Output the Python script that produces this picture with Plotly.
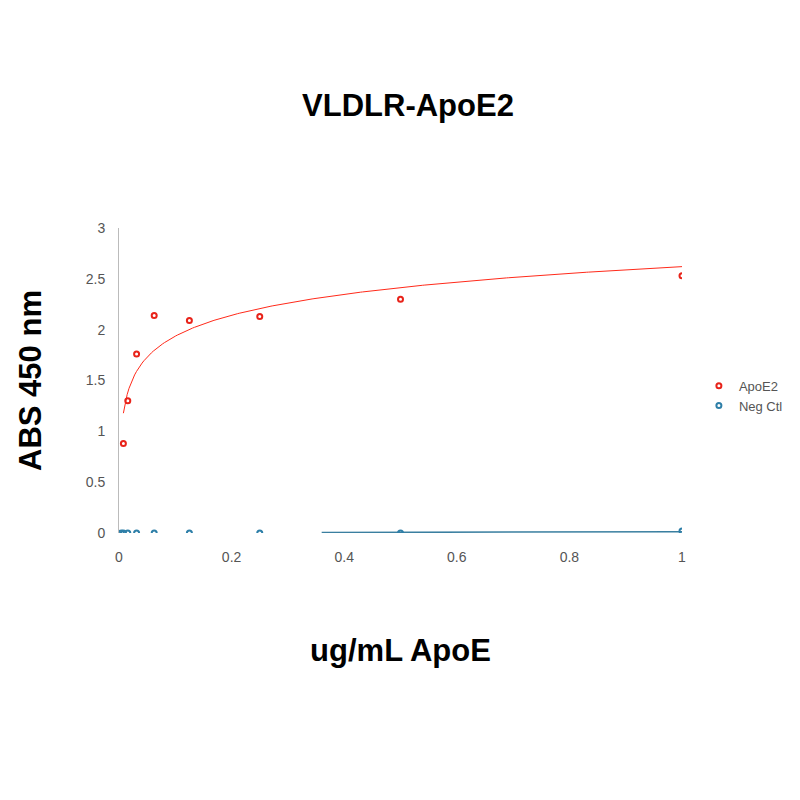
import numpy as np
import plotly.graph_objects as go

conc_apoe2 = [0.0078, 0.0156, 0.03125, 0.0625, 0.125, 0.25, 0.5, 1.0]
abs_apoe2 = [0.88, 1.30, 1.76, 2.14, 2.09, 2.13, 2.30, 2.53]
conc_neg = [0.0039, 0.0078, 0.0156, 0.03125, 0.0625, 0.125, 0.25, 0.5, 1.0]
abs_neg = [0.0, 0.0, 0.0, 0.0, 0.0, 0.0, 0.0, 0.0, 0.02]
# logarithmic trendline coefficients (y = a*ln(x) + b)
trend_a, trend_b = 0.297, 2.62
neg_trend_x = [0.36, 1.0]
neg_trend_y = [0.005, 0.012]

xs = np.linspace(0.0078, 1.0, 300)
fig = go.Figure()
fig.add_trace(go.Scatter(x=xs, y=trend_a*np.log(xs)+trend_b, mode="lines",
                         line=dict(color="#ff2a1a", width=1), showlegend=False, hoverinfo="skip"))
fig.add_trace(go.Scatter(x=neg_trend_x, y=neg_trend_y, mode="lines",
                         line=dict(color="#3a7fa0", width=1.5), showlegend=False, hoverinfo="skip"))
fig.add_trace(go.Scatter(x=conc_apoe2, y=abs_apoe2, mode="markers", name="ApoE2",
                         marker=dict(symbol="circle-open", size=5, color="#e8231a", line=dict(width=2))))
fig.add_trace(go.Scatter(x=conc_neg, y=abs_neg, mode="markers", name="Neg Ctl",
                         marker=dict(symbol="circle-open", size=5, color="#2e7fa8", line=dict(width=2))))
fig.update_layout(
    width=800, height=800, plot_bgcolor="white", paper_bgcolor="white",
    margin=dict(l=111, r=126, t=220, b=275, autoexpand=False),
    title=dict(text="<b>VLDLR-ApoE2</b>", x=0.5, xanchor="center", y=0.878, yanchor="middle",
               font=dict(family="Liberation Sans, Arial", size=31, color="black")),
    xaxis=dict(range=[0, 1], tickvals=[0, 0.2, 0.4, 0.6, 0.8, 1], ticktext=["0","0.2","0.4","0.6","0.8","1"],
               showgrid=False, zeroline=False, showline=False, ticks="", ticklabelstandoff=14,
               tickfont=dict(family="Liberation Sans, Arial", size=14, color="#555"),
               title=dict(text="<b>ug/mL ApoE</b>", standoff=75,
                          font=dict(family="Liberation Sans, Arial", size=31, color="black"))),
    yaxis=dict(range=[0, 3], tickvals=[0, 0.5, 1, 1.5, 2, 2.5, 3],
               showgrid=False, zeroline=False, showline=True, linecolor="#bbb", ticks="", ticklabelstandoff=10,
               tickfont=dict(family="Liberation Sans, Arial", size=14, color="#555"),
               title=dict(text="<b>ABS 450 nm</b>", standoff=34,
                          font=dict(family="Liberation Sans, Arial", size=31, color="black"))),
    legend=dict(x=1.03, y=0.45, xanchor="left", yanchor="middle", tracegroupgap=18,
                font=dict(family="Liberation Sans, Arial", size=13, color="#555")),
)
fig.write_html("out.html")
